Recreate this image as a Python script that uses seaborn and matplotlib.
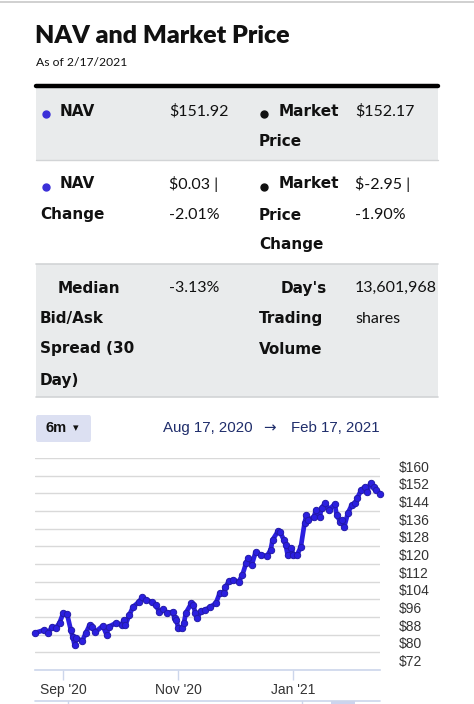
import numpy as np
import pandas as pd
import matplotlib
matplotlib.use("Agg")
from matplotlib import pyplot as plt
from matplotlib import transforms
from matplotlib.patches import Rectangle, FancyBboxPatch
from matplotlib.lines import Line2D
import seaborn as sns

# NAV series
dates = ["2020-08-17", "2020-08-22", "2020-08-24", "2020-08-26", "2020-08-28", "2020-08-30",
         "2020-09-01", "2020-09-03", "2020-09-05", "2020-09-06", "2020-09-07", "2020-09-08",
         "2020-09-11", "2020-09-13", "2020-09-15", "2020-09-16", "2020-09-18", "2020-09-22",
         "2020-09-24", "2020-09-25", "2020-09-29", "2020-10-02", "2020-10-03", "2020-10-04",
         "2020-10-06", "2020-10-08", "2020-10-11", "2020-10-13", "2020-10-15", "2020-10-18",
         "2020-10-20", "2020-10-22", "2020-10-24", "2020-10-26", "2020-10-29", "2020-10-30",
         "2020-10-31", "2020-11-01", "2020-11-03", "2020-11-04", "2020-11-05", "2020-11-08",
         "2020-11-09", "2020-11-10", "2020-11-11", "2020-11-13", "2020-11-15", "2020-11-18",
         "2020-11-21", "2020-11-23", "2020-11-25", "2020-11-26", "2020-11-28", "2020-11-30",
         "2020-12-03", "2020-12-05", "2020-12-07", "2020-12-08", "2020-12-10", "2020-12-12",
         "2020-12-15", "2020-12-18", "2020-12-20", "2020-12-21", "2020-12-24", "2020-12-25",
         "2020-12-27", "2020-12-28", "2020-12-29", "2020-12-31", "2021-01-01", "2021-01-03",
         "2021-01-05", "2021-01-07", "2021-01-08", "2021-01-09", "2021-01-12", "2021-01-13",
         "2021-01-15", "2021-01-16", "2021-01-18", "2021-01-20", "2021-01-23", "2021-01-24",
         "2021-01-26", "2021-01-27", "2021-01-28", "2021-01-30", "2021-02-01", "2021-02-03",
         "2021-02-04", "2021-02-06", "2021-02-08", "2021-02-09", "2021-02-11", "2021-02-13",
         "2021-02-14", "2021-02-16"]
nav = [88.8, 90.1, 88.8, 91.5, 91.0, 93.3,
       97.8, 97.4, 90.1, 87.0, 83.3, 86.5,
       85.1, 88.8, 92.4, 91.5, 89.2, 92.0,
       87.9, 91.5, 93.3, 92.4, 94.6, 92.4,
       96.9, 100.5, 102.8, 105.0, 103.7, 102.8,
       101.4, 98.3, 99.6, 97.8, 98.3, 95.5,
       94.6, 91.0, 91.0, 93.3, 97.8, 102.3,
       101.4, 97.8, 95.5, 98.7, 99.2, 100.5,
       102.3, 106.9, 106.9, 109.6, 112.3, 112.8,
       111.9, 115.0, 120.5, 122.7, 119.6, 125.4,
       124.1, 123.6, 126.3, 130.9, 135.0, 134.5,
       130.9, 128.6, 124.1, 127.3, 124.1, 124.1,
       127.7, 138.6, 142.2, 139.9, 141.3, 144.5,
       141.3, 145.4, 147.6, 144.5, 147.2, 142.2,
       139.0, 139.9, 136.8, 143.1, 146.7, 147.6,
       149.9, 153.5, 154.9, 152.6, 156.7, 154.9,
       153.5, 151.9]

grid_values = list(range(72, 169, 8))
y_ticks = list(range(72, 161, 8))
y_labels = ["$%d" % v for v in y_ticks]
x_ticks = ["2020-09-01", "2020-11-01", "2021-01-01"]
x_labels = ["Sep '20", "Nov '20", "Jan '21"]

title = "NAV and Market Price"
subtitle = "As of 2/17/2021"
date_from = "Aug 17, 2020"
date_to = "Feb 17, 2021"

df = pd.DataFrame({"date": pd.to_datetime(dates), "nav": nav})

sns.set_theme(style="white")
plt.rcParams["font.family"] = ["Liberation Sans", "DejaVu Sans"]

W, H = 474, 704
fig = plt.figure(figsize=(W / 100, H / 100), dpi=100)


def px(x, y):
    return x / W, 1 - y / H


def hrect(x0, y0, x1, y1, color):
    fig.patches.append(Rectangle(px(x0, y1), (x1 - x0) / W, (y1 - y0) / H,
                                 transform=fig.transFigure, color=color, lw=0, zorder=0))


def hline(x0, x1, y, color, lw):
    fig.lines.append(Line2D([x0 / W, x1 / W], [1 - y / H, 1 - y / H],
                            transform=fig.transFigure, color=color, lw=lw))


def dot(x, y, color):
    fig.lines.append(Line2D([x / W], [1 - y / H], transform=fig.transFigure, marker="o",
                            ms=5, color=color, lw=0))


def txt(x, y, s, size=11.5, weight="normal", ha="left", family="Lato", color="#111111"):
    fig.text(*px(x, y), s, fontsize=size, fontweight=weight, ha=ha, va="center",
             family=family, color=color)


# top border and header
hline(0, W, 1.5, "#c8c8c8", 1.2)
txt(35, 36, title, size=18, weight="heavy")
txt(36, 63, subtitle, size=8.7)
hline(36, 438, 86, "#000000", 3.2)

# table backgrounds
grey = "#e9ebec"
hrect(36, 88, 438, 160, grey)
hline(36, 438, 160, "#d2d4d6", 1)
hrect(36, 264, 438, 397, grey)
hline(36, 438, 264, "#d2d4d6", 1.2)
hline(36, 438, 397, "#d2d4d6", 1.2)

lab = dict(size=11, weight="bold", family=["DejaVu Sans"])
val = dict(size=11.5, family=["Lato"])

dot(46, 114, "#3a2fd8")
dot(46, 187, "#3a2fd8")
dot(264, 114, "#111111")
dot(264, 187, "#111111")

# row 1
txt(60, 111, "NAV", **lab)
txt(169, 111, "$151.92", **val)
txt(279, 111, "Market", **lab)
txt(259, 142, "Price", **lab)
txt(355, 111, "$152.17", **val)

# row 2
txt(60, 184, "NAV", **lab)
txt(40, 215, "Change", **lab)
txt(169, 184, "$0.03 |", **val)
txt(169, 215, "-2.01%", **val)
txt(279, 184, "Market", **lab)
txt(259, 215, "Price", **lab)
txt(259, 245, "Change", **lab)
txt(355, 184, "$-2.95 |", **val)
txt(355, 215, "-1.90%", **val)

# row 3
txt(58, 288, "Median", **lab)
txt(40, 319, "Bid/Ask", **lab)
txt(40, 349, "Spread (30", **lab)
txt(40, 380, "Day)", **lab)
txt(169, 288, "-3.13%", **val)
txt(327, 288, "Day's", ha="right", **lab)
txt(259, 319, "Trading", **lab)
txt(259, 349, "Volume", **lab)
txt(355, 288, "13,601,968", **val)
txt(355, 319, "shares", **val)

# range selector
fig.patches.append(FancyBboxPatch(px(36, 442), 55 / W, 27 / H, transform=fig.transFigure,
                                  boxstyle="round,pad=0,rounding_size=0.004",
                                  color="#dce0f2", lw=0))
txt(46, 428, "6m", size=10.5, weight="bold", family=["Liberation Sans"])
txt(73, 428, "\u25be", size=8, family=["DejaVu Sans"])
navy = "#1f2d6b"
txt(163, 428, date_from, size=10.8, family=["Liberation Sans"], color=navy)
txt(269, 428, "\u2192", size=10.8, ha="center", family=["DejaVu Sans"], color=navy)
txt(291, 428, date_to, size=10.8, family=["Liberation Sans"], color=navy)

# chart
ax = fig.add_axes([35 / W, (H - 670) / H, 345 / W, 212 / H])
sns.lineplot(data=df, x="date", y="nav", ax=ax, color="#2b1fe0", lw=3.4,
             marker="o", markersize=4.6, markerfacecolor="#2b1fe0",
             markeredgecolor="#221aa8", markeredgewidth=0.7, clip_on=False, zorder=3)
ax.set_xlim(pd.Timestamp("2020-08-17"), pd.Timestamp("2021-02-16"))
ax.set_ylim(72, 168)
ax.set_yticks(grid_values)
ax.yaxis.grid(True, color="#d9d9d9", lw=1)
ax.tick_params(axis="y", left=False, labelleft=False)
ax.set_xticks(pd.to_datetime(x_ticks))
ax.set_xticklabels(x_labels, fontsize=10, color="#333333")
ax.tick_params(axis="x", bottom=True, direction="out", length=7.2, width=1,
               color="#ccd6eb", pad=2)
ax.set_xlabel("")
ax.set_ylabel("")
for side in ["top", "right", "left"]:
    ax.spines[side].set_visible(False)
ax.spines["bottom"].set_color("#ccd6eb")
ax.spines["bottom"].set_linewidth(1.2)
ax.set_facecolor("none")

label_tr = transforms.offset_copy(ax.get_yaxis_transform(), fig=fig, x=0, y=8, units="dots")
for v, s in zip(y_ticks, y_labels):
    ax.text(1.055, v, s, transform=label_tr, fontsize=10, color="#333333",
            ha="left", va="center")

# navigator strip below the axis
hline(35, 380, 701, "#ccd6eb", 1.2)
for xx in [68, 302]:
    fig.lines.append(Line2D([xx / W, xx / W], [1 - 701 / H, 0], transform=fig.transFigure,
                            color="#ccd6eb", lw=1))
hrect(331, 701, 355, 704, "#ccd4ee")

fig.savefig("out.png", dpi=100)
